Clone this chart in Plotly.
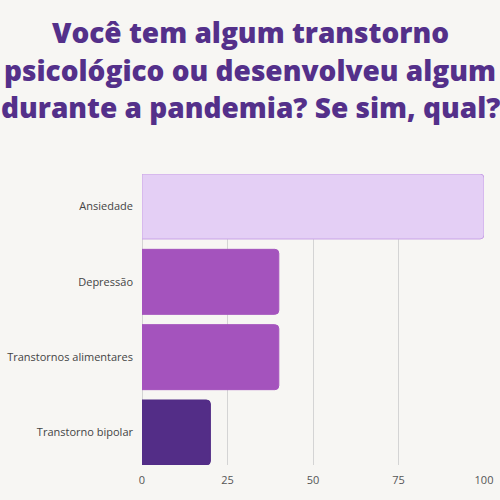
import plotly.graph_objects as go

categories = ["Ansiedade", "Depressão", "Transtornos alimentares", "Transtorno bipolar"]
values = [100, 40, 40, 20]
bar_colors = ["#e4cff5", "#a453bd", "#a453bd", "#532d87"]
line_colors = ["#c9a3e6", "#a453bd", "#a453bd", "#532d87"]
x_ticks = [0, 25, 50, 75, 100]
title_lines = ["Você tem algum transtorno", "psicológico ou desenvolveu algum",
               "durante a pandemia? Se sim, qual?"]

bargap = 0.137
w = 1 - bargap
left, right, top, bottom = 142, 16, 174, 35
plot_h = 500 - top - bottom
plot_w = 500 - left - right

fig = go.Figure(go.Bar(
    x=values, y=categories, orientation="h",
    marker=dict(color=bar_colors, line=dict(color=line_colors, width=1)),
    hoverinfo="skip",
))

for i, line in enumerate(title_lines):
    fig.add_annotation(
        text=line, showarrow=False,
        xref="paper", x=(250 - left) / plot_w, xanchor="center",
        yref="paper", y=(500 - bottom - (11 + 37.5 * i)) / plot_h, yanchor="top",
        font=dict(family="Open Sans", size=28, color="#54308a", weight=800),
    )

fig.update_layout(
    template="none",
    width=500, height=500, autosize=False,
    paper_bgcolor="#f7f6f3", plot_bgcolor="#f7f6f3",
    margin=dict(l=left, r=right, t=top, b=bottom, autoexpand=False),
    bargap=bargap,
    barcornerradius=4,
    showlegend=False,
    font=dict(family="Open Sans", size=11, color="#555555"),
)
fig.update_xaxes(
    range=[0, 100], tickvals=x_ticks, showgrid=True, gridcolor="#d4d4d4", gridwidth=1,
    zeroline=True, zerolinecolor="#d4d4d4", zerolinewidth=1, showline=False,
    ticks="", ticklabelstandoff=7, automargin=False,
    tickfont=dict(family="Open Sans", size=11, color="#555555"), fixedrange=True,
)
fig.update_yaxes(
    categoryorder="array", categoryarray=categories,
    range=[3 + w / 2, -w / 2], showgrid=False, zeroline=False, showline=False,
    ticks="", ticklabelstandoff=8, automargin=False,
    tickfont=dict(family="Open Sans", size=11, color="#444444"), fixedrange=True,
)

fig.write_html("out.html", config={"displayModeBar": False})
